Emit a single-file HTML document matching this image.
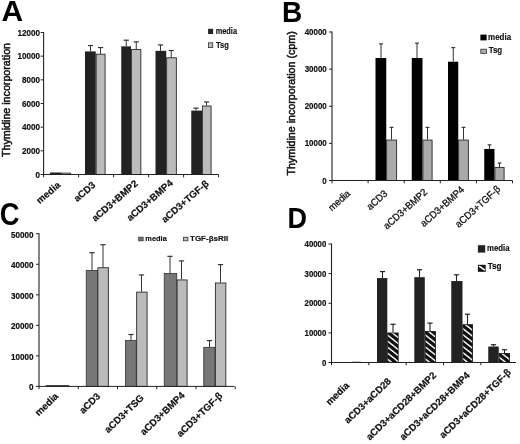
<!DOCTYPE html>
<html><head><meta charset="utf-8"><title>Figure</title><style>html,body{margin:0;padding:0;background:#fff}svg{display:block}</style></head><body>
<svg width="520" height="444" viewBox="0 0 520 444">
<defs><pattern id="hatch" patternUnits="userSpaceOnUse" width="7.6" height="6" patternTransform="skewY(38.3)"><rect width="7.6" height="6" fill="#fff"/><rect y="0" width="7.6" height="4.2" fill="#111"/></pattern></defs>
<rect width="520" height="444" fill="#fff"/>
<rect x="50.00" y="172.49" width="11.25" height="2.01" fill="#222"/>
<rect x="61.65" y="173.12" width="8.95" height="1.38" fill="#bbb" stroke="#2a2a2a" stroke-width="0.9"/>
<rect x="85.00" y="51.43" width="10.75" height="123.07" fill="#222"/>
<line x1="90.50" y1="45.53" x2="90.50" y2="51.43" stroke="#333" stroke-width="1"/>
<line x1="87.90" y1="45.53" x2="93.10" y2="45.53" stroke="#333" stroke-width="1.2"/>
<rect x="96.15" y="54.20" width="8.95" height="120.30" fill="#bbb" stroke="#2a2a2a" stroke-width="0.9"/>
<line x1="100.50" y1="47.54" x2="100.50" y2="53.80" stroke="#333" stroke-width="1"/>
<line x1="97.90" y1="47.54" x2="103.10" y2="47.54" stroke="#333" stroke-width="1.2"/>
<rect x="121.25" y="46.34" width="9.75" height="128.16" fill="#222"/>
<line x1="126.25" y1="40.20" x2="126.25" y2="46.34" stroke="#333" stroke-width="1"/>
<line x1="123.65" y1="40.20" x2="128.85" y2="40.20" stroke="#333" stroke-width="1.2"/>
<rect x="131.40" y="49.47" width="9.45" height="125.03" fill="#bbb" stroke="#2a2a2a" stroke-width="0.9"/>
<line x1="136.25" y1="41.86" x2="136.25" y2="49.07" stroke="#333" stroke-width="1"/>
<line x1="133.65" y1="41.86" x2="138.85" y2="41.86" stroke="#333" stroke-width="1.2"/>
<rect x="155.50" y="50.84" width="10.75" height="123.66" fill="#222"/>
<line x1="160.50" y1="44.93" x2="160.50" y2="50.84" stroke="#333" stroke-width="1"/>
<line x1="157.90" y1="44.93" x2="163.10" y2="44.93" stroke="#333" stroke-width="1.2"/>
<rect x="166.65" y="57.75" width="9.70" height="116.75" fill="#bbb" stroke="#2a2a2a" stroke-width="0.9"/>
<line x1="171.25" y1="50.50" x2="171.25" y2="57.35" stroke="#333" stroke-width="1"/>
<line x1="168.65" y1="50.50" x2="173.85" y2="50.50" stroke="#333" stroke-width="1.2"/>
<rect x="191.25" y="110.60" width="10.75" height="63.90" fill="#222"/>
<line x1="196.00" y1="108.12" x2="196.00" y2="110.60" stroke="#333" stroke-width="1"/>
<line x1="193.40" y1="108.12" x2="198.60" y2="108.12" stroke="#333" stroke-width="1.2"/>
<rect x="202.40" y="106.03" width="8.70" height="68.47" fill="#bbb" stroke="#2a2a2a" stroke-width="0.9"/>
<line x1="206.50" y1="101.97" x2="206.50" y2="105.63" stroke="#333" stroke-width="1"/>
<line x1="203.90" y1="101.97" x2="209.10" y2="101.97" stroke="#333" stroke-width="1.2"/>
<line x1="43.60" y1="32.00" x2="43.60" y2="175.00" stroke="#222" stroke-width="1.1"/>
<line x1="43.10" y1="174.50" x2="218.50" y2="174.50" stroke="#222" stroke-width="1.0"/>
<line x1="40.60" y1="174.50" x2="43.60" y2="174.50" stroke="#222" stroke-width="1"/>
<text transform="translate(40.00,177.60) scale(0.9,1)" font-family="Liberation Sans, sans-serif" font-size="9" font-weight="bold" text-anchor="end" fill="#111" stroke="#111" stroke-width="0.2">0</text>
<line x1="40.60" y1="150.83" x2="43.60" y2="150.83" stroke="#222" stroke-width="1"/>
<text transform="translate(40.00,153.93) scale(0.9,1)" font-family="Liberation Sans, sans-serif" font-size="9" font-weight="bold" text-anchor="end" fill="#111" stroke="#111" stroke-width="0.2">2000</text>
<line x1="40.60" y1="127.17" x2="43.60" y2="127.17" stroke="#222" stroke-width="1"/>
<text transform="translate(40.00,130.27) scale(0.9,1)" font-family="Liberation Sans, sans-serif" font-size="9" font-weight="bold" text-anchor="end" fill="#111" stroke="#111" stroke-width="0.2">4000</text>
<line x1="40.60" y1="103.50" x2="43.60" y2="103.50" stroke="#222" stroke-width="1"/>
<text transform="translate(40.00,106.60) scale(0.9,1)" font-family="Liberation Sans, sans-serif" font-size="9" font-weight="bold" text-anchor="end" fill="#111" stroke="#111" stroke-width="0.2">6000</text>
<line x1="40.60" y1="79.83" x2="43.60" y2="79.83" stroke="#222" stroke-width="1"/>
<text transform="translate(40.00,82.93) scale(0.9,1)" font-family="Liberation Sans, sans-serif" font-size="9" font-weight="bold" text-anchor="end" fill="#111" stroke="#111" stroke-width="0.2">8000</text>
<line x1="40.60" y1="56.17" x2="43.60" y2="56.17" stroke="#222" stroke-width="1"/>
<text transform="translate(40.00,59.27) scale(0.9,1)" font-family="Liberation Sans, sans-serif" font-size="9" font-weight="bold" text-anchor="end" fill="#111" stroke="#111" stroke-width="0.2">10000</text>
<line x1="40.60" y1="32.50" x2="43.60" y2="32.50" stroke="#222" stroke-width="1"/>
<text transform="translate(40.00,35.60) scale(0.9,1)" font-family="Liberation Sans, sans-serif" font-size="9" font-weight="bold" text-anchor="end" fill="#111" stroke="#111" stroke-width="0.2">12000</text>
<line x1="43.60" y1="174.50" x2="43.60" y2="177.30" stroke="#222" stroke-width="1"/>
<line x1="78.60" y1="174.50" x2="78.60" y2="177.30" stroke="#222" stroke-width="1"/>
<line x1="113.60" y1="174.50" x2="113.60" y2="177.30" stroke="#222" stroke-width="1"/>
<line x1="148.60" y1="174.50" x2="148.60" y2="177.30" stroke="#222" stroke-width="1"/>
<line x1="183.60" y1="174.50" x2="183.60" y2="177.30" stroke="#222" stroke-width="1"/>
<line x1="218.60" y1="174.50" x2="218.60" y2="177.30" stroke="#222" stroke-width="1"/>
<text transform="translate(61.00,186.00) rotate(-41)" font-family="Liberation Sans, sans-serif" font-size="9.7" font-weight="bold" text-anchor="end" fill="#111" stroke="#111" stroke-width="0.2">media</text>
<text transform="translate(96.00,186.00) rotate(-41)" font-family="Liberation Sans, sans-serif" font-size="9.7" font-weight="bold" text-anchor="end" fill="#111" stroke="#111" stroke-width="0.2">aCD3</text>
<text transform="translate(138.50,184.50) rotate(-41)" font-family="Liberation Sans, sans-serif" font-size="9.7" font-weight="bold" text-anchor="end" fill="#111" stroke="#111" stroke-width="0.2">aCD3+BMP2</text>
<text transform="translate(173.50,184.00) rotate(-41)" font-family="Liberation Sans, sans-serif" font-size="9.7" font-weight="bold" text-anchor="end" fill="#111" stroke="#111" stroke-width="0.2">aCD3+BMP4</text>
<text transform="translate(209.40,184.50) rotate(-41)" font-family="Liberation Sans, sans-serif" font-size="9.7" font-weight="bold" text-anchor="end" fill="#111" stroke="#111" stroke-width="0.2">aCD3+TGF-β</text>
<text transform="translate(10.40,100.00) rotate(-90)" font-family="Liberation Sans, sans-serif" font-size="10.7" font-weight="normal" text-anchor="middle" fill="#111" stroke="#111" stroke-width="0.5">Thymidine incorporation</text>
<text transform="translate(1.40,20.80) scale(1.04,1)" font-family="Liberation Sans, sans-serif" font-size="28.8" font-weight="bold" text-anchor="start" fill="#000">A</text>
<rect x="208.10" y="28.80" width="5.00" height="5.20" fill="#222"/>
<text transform="translate(215.70,33.50) scale(0.82,1)" font-family="Liberation Sans, sans-serif" font-size="9" font-weight="bold" text-anchor="start" fill="#111" stroke="#111" stroke-width="0.15">media</text>
<rect x="208.50" y="42.80" width="4.20" height="4.80" fill="#bbb" stroke="#333" stroke-width="0.8"/>
<text transform="translate(215.90,47.80) scale(0.84,1)" font-family="Liberation Sans, sans-serif" font-size="9" font-weight="bold" text-anchor="start" fill="#111" stroke="#111" stroke-width="0.15">Tsg</text>
<rect x="375.50" y="57.99" width="10.75" height="122.51" fill="#000"/>
<line x1="381.00" y1="43.88" x2="381.00" y2="57.99" stroke="#333" stroke-width="1"/>
<line x1="379.10" y1="43.88" x2="382.90" y2="43.88" stroke="#333" stroke-width="1.2"/>
<rect x="386.65" y="140.06" width="9.95" height="40.44" fill="#aaa" stroke="#2a2a2a" stroke-width="0.9"/>
<line x1="391.50" y1="127.41" x2="391.50" y2="139.66" stroke="#333" stroke-width="1"/>
<line x1="389.60" y1="127.41" x2="393.40" y2="127.41" stroke="#333" stroke-width="1.2"/>
<rect x="411.75" y="57.99" width="10.75" height="122.51" fill="#000"/>
<line x1="417.00" y1="43.14" x2="417.00" y2="57.99" stroke="#333" stroke-width="1"/>
<line x1="415.10" y1="43.14" x2="418.90" y2="43.14" stroke="#333" stroke-width="1.2"/>
<rect x="422.90" y="140.06" width="9.20" height="40.44" fill="#aaa" stroke="#2a2a2a" stroke-width="0.9"/>
<line x1="427.50" y1="127.41" x2="427.50" y2="139.66" stroke="#333" stroke-width="1"/>
<line x1="425.60" y1="127.41" x2="429.40" y2="127.41" stroke="#333" stroke-width="1.2"/>
<rect x="448.00" y="61.70" width="10.25" height="118.80" fill="#000"/>
<line x1="453.25" y1="47.59" x2="453.25" y2="61.70" stroke="#333" stroke-width="1"/>
<line x1="451.35" y1="47.59" x2="455.15" y2="47.59" stroke="#333" stroke-width="1.2"/>
<rect x="458.65" y="140.06" width="9.70" height="40.44" fill="#aaa" stroke="#2a2a2a" stroke-width="0.9"/>
<line x1="463.50" y1="127.41" x2="463.50" y2="139.66" stroke="#333" stroke-width="1"/>
<line x1="461.60" y1="127.41" x2="465.40" y2="127.41" stroke="#333" stroke-width="1.2"/>
<rect x="484.25" y="148.94" width="10.25" height="31.56" fill="#000"/>
<line x1="489.50" y1="144.86" x2="489.50" y2="148.94" stroke="#333" stroke-width="1"/>
<line x1="487.60" y1="144.86" x2="491.40" y2="144.86" stroke="#333" stroke-width="1.2"/>
<rect x="494.90" y="167.53" width="9.20" height="12.97" fill="#aaa" stroke="#2a2a2a" stroke-width="0.9"/>
<line x1="499.50" y1="163.05" x2="499.50" y2="167.13" stroke="#333" stroke-width="1"/>
<line x1="497.60" y1="163.05" x2="501.40" y2="163.05" stroke="#333" stroke-width="1.2"/>
<line x1="332.00" y1="31.50" x2="332.00" y2="181.00" stroke="#222" stroke-width="1.1"/>
<line x1="331.50" y1="180.50" x2="512.50" y2="180.50" stroke="#222" stroke-width="1.0"/>
<line x1="329.00" y1="180.50" x2="332.00" y2="180.50" stroke="#222" stroke-width="1"/>
<text transform="translate(326.70,183.60) scale(0.88,1)" font-family="Liberation Sans, sans-serif" font-size="9" font-weight="bold" text-anchor="end" fill="#111" stroke="#111" stroke-width="0.2">0</text>
<line x1="329.00" y1="143.38" x2="332.00" y2="143.38" stroke="#222" stroke-width="1"/>
<text transform="translate(326.70,146.47) scale(0.88,1)" font-family="Liberation Sans, sans-serif" font-size="9" font-weight="bold" text-anchor="end" fill="#111" stroke="#111" stroke-width="0.2">10000</text>
<line x1="329.00" y1="106.25" x2="332.00" y2="106.25" stroke="#222" stroke-width="1"/>
<text transform="translate(326.70,109.35) scale(0.88,1)" font-family="Liberation Sans, sans-serif" font-size="9" font-weight="bold" text-anchor="end" fill="#111" stroke="#111" stroke-width="0.2">20000</text>
<line x1="329.00" y1="69.12" x2="332.00" y2="69.12" stroke="#222" stroke-width="1"/>
<text transform="translate(326.70,72.22) scale(0.88,1)" font-family="Liberation Sans, sans-serif" font-size="9" font-weight="bold" text-anchor="end" fill="#111" stroke="#111" stroke-width="0.2">30000</text>
<line x1="329.00" y1="32.00" x2="332.00" y2="32.00" stroke="#222" stroke-width="1"/>
<text transform="translate(326.70,35.10) scale(0.88,1)" font-family="Liberation Sans, sans-serif" font-size="9" font-weight="bold" text-anchor="end" fill="#111" stroke="#111" stroke-width="0.2">40000</text>
<line x1="332.00" y1="180.50" x2="332.00" y2="183.30" stroke="#222" stroke-width="1"/>
<line x1="368.10" y1="180.50" x2="368.10" y2="183.30" stroke="#222" stroke-width="1"/>
<line x1="404.20" y1="180.50" x2="404.20" y2="183.30" stroke="#222" stroke-width="1"/>
<line x1="440.30" y1="180.50" x2="440.30" y2="183.30" stroke="#222" stroke-width="1"/>
<line x1="476.40" y1="180.50" x2="476.40" y2="183.30" stroke="#222" stroke-width="1"/>
<line x1="512.50" y1="180.50" x2="512.50" y2="183.30" stroke="#222" stroke-width="1"/>
<text transform="translate(351.00,194.40) rotate(-42) scale(0.94,1)" font-family="Liberation Sans, sans-serif" font-size="10" font-weight="normal" text-anchor="end" fill="#111" stroke="#111" stroke-width="0.3">media</text>
<text transform="translate(388.20,194.40) rotate(-42) scale(0.94,1)" font-family="Liberation Sans, sans-serif" font-size="10" font-weight="normal" text-anchor="end" fill="#111" stroke="#111" stroke-width="0.3">aCD3</text>
<text transform="translate(428.00,193.00) rotate(-42) scale(0.94,1)" font-family="Liberation Sans, sans-serif" font-size="10" font-weight="normal" text-anchor="end" fill="#111" stroke="#111" stroke-width="0.3">aCD3+BMP2</text>
<text transform="translate(465.00,190.50) rotate(-42) scale(0.94,1)" font-family="Liberation Sans, sans-serif" font-size="10" font-weight="normal" text-anchor="end" fill="#111" stroke="#111" stroke-width="0.3">aCD3+BMP4</text>
<text transform="translate(501.00,190.00) rotate(-42) scale(0.94,1)" font-family="Liberation Sans, sans-serif" font-size="10" font-weight="normal" text-anchor="end" fill="#111" stroke="#111" stroke-width="0.3">aCD3+TGF-β</text>
<text transform="translate(295.40,103.40) rotate(-90)" font-family="Liberation Sans, sans-serif" font-size="10.7" font-weight="normal" text-anchor="middle" fill="#111" stroke="#111" stroke-width="0.5">Thymidine incorporation (cpm)</text>
<text transform="translate(282.00,21.70) scale(0.95,1)" font-family="Liberation Sans, sans-serif" font-size="29.5" font-weight="bold" text-anchor="start" fill="#000">B</text>
<rect x="480.40" y="34.60" width="6.20" height="5.80" fill="#000"/>
<text transform="translate(488.10,39.70) scale(0.97,1)" font-family="Liberation Sans, sans-serif" font-size="8.2" font-weight="bold" text-anchor="start" fill="#111" stroke="#111" stroke-width="0.15">media</text>
<rect x="480.80" y="49.20" width="5.60" height="4.20" fill="#aaa" stroke="#333" stroke-width="0.8"/>
<text transform="translate(488.70,53.10) scale(0.97,1)" font-family="Liberation Sans, sans-serif" font-size="8.2" font-weight="bold" text-anchor="start" fill="#111" stroke="#111" stroke-width="0.15">Tsg</text>
<rect x="46.25" y="385.48" width="22.50" height="0.92" fill="#777" stroke="#333" stroke-width="0.8"/>
<rect x="86.25" y="270.39" width="11.25" height="116.01" fill="#777" stroke="#333" stroke-width="0.8"/>
<line x1="92.00" y1="252.68" x2="92.00" y2="270.39" stroke="#333" stroke-width="1"/>
<line x1="89.40" y1="252.68" x2="94.60" y2="252.68" stroke="#333" stroke-width="1.2"/>
<rect x="97.90" y="267.73" width="10.45" height="118.67" fill="#bbb" stroke="#2a2a2a" stroke-width="0.9"/>
<line x1="103.00" y1="244.74" x2="103.00" y2="267.33" stroke="#333" stroke-width="1"/>
<line x1="100.40" y1="244.74" x2="105.60" y2="244.74" stroke="#333" stroke-width="1.2"/>
<rect x="125.50" y="340.60" width="10.75" height="45.80" fill="#777" stroke="#333" stroke-width="0.8"/>
<line x1="131.00" y1="334.50" x2="131.00" y2="340.60" stroke="#333" stroke-width="1"/>
<line x1="128.40" y1="334.50" x2="133.60" y2="334.50" stroke="#333" stroke-width="1.2"/>
<rect x="136.65" y="292.16" width="10.45" height="94.24" fill="#bbb" stroke="#2a2a2a" stroke-width="0.9"/>
<line x1="141.50" y1="274.97" x2="141.50" y2="291.76" stroke="#333" stroke-width="1"/>
<line x1="138.90" y1="274.97" x2="144.10" y2="274.97" stroke="#333" stroke-width="1.2"/>
<rect x="164.25" y="273.44" width="12.50" height="112.96" fill="#777" stroke="#333" stroke-width="0.8"/>
<line x1="170.00" y1="256.34" x2="170.00" y2="273.44" stroke="#333" stroke-width="1"/>
<line x1="167.40" y1="256.34" x2="172.60" y2="256.34" stroke="#333" stroke-width="1.2"/>
<rect x="177.15" y="279.94" width="9.95" height="106.46" fill="#bbb" stroke="#2a2a2a" stroke-width="0.9"/>
<line x1="181.50" y1="260.92" x2="181.50" y2="279.54" stroke="#333" stroke-width="1"/>
<line x1="178.90" y1="260.92" x2="184.10" y2="260.92" stroke="#333" stroke-width="1.2"/>
<rect x="203.75" y="347.32" width="11.25" height="39.08" fill="#777" stroke="#333" stroke-width="0.8"/>
<line x1="209.50" y1="340.60" x2="209.50" y2="347.32" stroke="#333" stroke-width="1"/>
<line x1="206.90" y1="340.60" x2="212.10" y2="340.60" stroke="#333" stroke-width="1.2"/>
<rect x="215.40" y="283.00" width="10.45" height="103.40" fill="#bbb" stroke="#2a2a2a" stroke-width="0.9"/>
<line x1="220.50" y1="264.59" x2="220.50" y2="282.60" stroke="#333" stroke-width="1"/>
<line x1="217.90" y1="264.59" x2="223.10" y2="264.59" stroke="#333" stroke-width="1.2"/>
<line x1="39.00" y1="233.25" x2="39.00" y2="386.90" stroke="#222" stroke-width="1.1"/>
<line x1="38.50" y1="386.40" x2="234.50" y2="386.40" stroke="#222" stroke-width="1.0"/>
<line x1="36.00" y1="386.40" x2="39.00" y2="386.40" stroke="#222" stroke-width="1"/>
<text transform="translate(33.40,390.20) scale(0.9,1)" font-family="Liberation Sans, sans-serif" font-size="9" font-weight="bold" text-anchor="end" fill="#111" stroke="#111" stroke-width="0.2">0</text>
<line x1="36.00" y1="355.87" x2="39.00" y2="355.87" stroke="#222" stroke-width="1"/>
<text transform="translate(33.40,359.67) scale(0.9,1)" font-family="Liberation Sans, sans-serif" font-size="9" font-weight="bold" text-anchor="end" fill="#111" stroke="#111" stroke-width="0.2">10000</text>
<line x1="36.00" y1="325.34" x2="39.00" y2="325.34" stroke="#222" stroke-width="1"/>
<text transform="translate(33.40,329.14) scale(0.9,1)" font-family="Liberation Sans, sans-serif" font-size="9" font-weight="bold" text-anchor="end" fill="#111" stroke="#111" stroke-width="0.2">20000</text>
<line x1="36.00" y1="294.81" x2="39.00" y2="294.81" stroke="#222" stroke-width="1"/>
<text transform="translate(33.40,298.61) scale(0.9,1)" font-family="Liberation Sans, sans-serif" font-size="9" font-weight="bold" text-anchor="end" fill="#111" stroke="#111" stroke-width="0.2">30000</text>
<line x1="36.00" y1="264.28" x2="39.00" y2="264.28" stroke="#222" stroke-width="1"/>
<text transform="translate(33.40,268.08) scale(0.9,1)" font-family="Liberation Sans, sans-serif" font-size="9" font-weight="bold" text-anchor="end" fill="#111" stroke="#111" stroke-width="0.2">40000</text>
<line x1="36.00" y1="233.75" x2="39.00" y2="233.75" stroke="#222" stroke-width="1"/>
<text transform="translate(33.40,237.55) scale(0.9,1)" font-family="Liberation Sans, sans-serif" font-size="9" font-weight="bold" text-anchor="end" fill="#111" stroke="#111" stroke-width="0.2">50000</text>
<line x1="39.00" y1="386.40" x2="39.00" y2="389.20" stroke="#222" stroke-width="1"/>
<line x1="78.25" y1="386.40" x2="78.25" y2="389.20" stroke="#222" stroke-width="1"/>
<line x1="117.50" y1="386.40" x2="117.50" y2="389.20" stroke="#222" stroke-width="1"/>
<line x1="156.75" y1="386.40" x2="156.75" y2="389.20" stroke="#222" stroke-width="1"/>
<line x1="196.00" y1="386.40" x2="196.00" y2="389.20" stroke="#222" stroke-width="1"/>
<line x1="235.25" y1="386.40" x2="235.25" y2="389.20" stroke="#222" stroke-width="1"/>
<text transform="translate(59.00,397.00) rotate(-44)" font-family="Liberation Sans, sans-serif" font-size="9.7" font-weight="bold" text-anchor="end" fill="#111" stroke="#111" stroke-width="0.2">media</text>
<text transform="translate(101.00,397.00) rotate(-44)" font-family="Liberation Sans, sans-serif" font-size="9.7" font-weight="bold" text-anchor="end" fill="#111" stroke="#111" stroke-width="0.2">aCD3</text>
<text transform="translate(144.50,398.50) rotate(-44)" font-family="Liberation Sans, sans-serif" font-size="9.7" font-weight="bold" text-anchor="end" fill="#111" stroke="#111" stroke-width="0.2">aCD3+TSG</text>
<text transform="translate(185.30,396.00) rotate(-44)" font-family="Liberation Sans, sans-serif" font-size="9.7" font-weight="bold" text-anchor="end" fill="#111" stroke="#111" stroke-width="0.2">aCD3+BMP4</text>
<text transform="translate(223.00,396.50) rotate(-44)" font-family="Liberation Sans, sans-serif" font-size="9.7" font-weight="bold" text-anchor="end" fill="#111" stroke="#111" stroke-width="0.2">aCD3+TGF-β</text>
<text transform="translate(-0.20,224.70) scale(0.88,1)" font-family="Liberation Sans, sans-serif" font-size="31" font-weight="bold" text-anchor="start" fill="#000">C</text>
<rect x="138.70" y="237.20" width="4.40" height="3.60" fill="#777" stroke="#333" stroke-width="0.8"/>
<text transform="translate(145.30,241.30) scale(0.93,1)" font-family="Liberation Sans, sans-serif" font-size="8" font-weight="bold" text-anchor="start" fill="#111" stroke="#111" stroke-width="0.15">media</text>
<rect x="183.50" y="237.20" width="4.40" height="3.60" fill="#bbb" stroke="#333" stroke-width="0.8"/>
<text transform="translate(190.00,241.30)" font-family="Liberation Sans, sans-serif" font-size="8" font-weight="bold" text-anchor="start" fill="#111" stroke="#111" stroke-width="0.15">TGF-βsRII</text>
<rect x="352.00" y="361.76" width="9.00" height="0.74" fill="#222"/>
<rect x="377.00" y="278.07" width="10.30" height="84.43" fill="#222"/>
<line x1="382.50" y1="271.55" x2="382.50" y2="278.07" stroke="#222" stroke-width="1.1"/>
<line x1="379.90" y1="271.55" x2="385.10" y2="271.55" stroke="#222" stroke-width="1.2"/>
<rect x="387.70" y="332.98" width="10.50" height="29.52" fill="url(#hatch)" stroke="#111" stroke-width="0.8"/>
<line x1="393.00" y1="324.28" x2="393.00" y2="332.58" stroke="#222" stroke-width="1.1"/>
<line x1="390.40" y1="324.28" x2="395.60" y2="324.28" stroke="#222" stroke-width="1.2"/>
<rect x="414.30" y="277.18" width="10.50" height="85.32" fill="#222"/>
<line x1="419.50" y1="269.77" x2="419.50" y2="277.18" stroke="#222" stroke-width="1.1"/>
<line x1="416.90" y1="269.77" x2="422.10" y2="269.77" stroke="#222" stroke-width="1.2"/>
<rect x="425.20" y="331.50" width="10.20" height="31.00" fill="url(#hatch)" stroke="#111" stroke-width="0.8"/>
<line x1="430.00" y1="323.10" x2="430.00" y2="331.10" stroke="#222" stroke-width="1.1"/>
<line x1="427.40" y1="323.10" x2="432.60" y2="323.10" stroke="#222" stroke-width="1.2"/>
<rect x="451.25" y="281.03" width="11.25" height="81.47" fill="#222"/>
<line x1="456.50" y1="274.81" x2="456.50" y2="281.03" stroke="#222" stroke-width="1.1"/>
<line x1="453.90" y1="274.81" x2="459.10" y2="274.81" stroke="#222" stroke-width="1.2"/>
<rect x="462.90" y="324.68" width="9.70" height="37.82" fill="url(#hatch)" stroke="#111" stroke-width="0.8"/>
<line x1="467.50" y1="314.21" x2="467.50" y2="324.28" stroke="#222" stroke-width="1.1"/>
<line x1="464.90" y1="314.21" x2="470.10" y2="314.21" stroke="#222" stroke-width="1.2"/>
<rect x="488.25" y="346.50" width="10.50" height="16.00" fill="#222"/>
<line x1="493.50" y1="344.73" x2="493.50" y2="346.50" stroke="#222" stroke-width="1.1"/>
<line x1="490.90" y1="344.73" x2="496.10" y2="344.73" stroke="#222" stroke-width="1.2"/>
<rect x="499.15" y="353.42" width="10.45" height="9.08" fill="url(#hatch)" stroke="#111" stroke-width="0.8"/>
<line x1="504.50" y1="349.76" x2="504.50" y2="353.02" stroke="#222" stroke-width="1.1"/>
<line x1="501.90" y1="349.76" x2="507.10" y2="349.76" stroke="#222" stroke-width="1.2"/>
<line x1="331.50" y1="243.50" x2="331.50" y2="363.00" stroke="#222" stroke-width="1.1"/>
<line x1="331.00" y1="362.50" x2="516.00" y2="362.50" stroke="#222" stroke-width="1.0"/>
<line x1="328.50" y1="362.50" x2="331.50" y2="362.50" stroke="#222" stroke-width="1"/>
<text transform="translate(326.30,365.60) scale(0.87,1)" font-family="Liberation Sans, sans-serif" font-size="9" font-weight="bold" text-anchor="end" fill="#111" stroke="#111" stroke-width="0.2">0</text>
<line x1="328.50" y1="332.88" x2="331.50" y2="332.88" stroke="#222" stroke-width="1"/>
<text transform="translate(326.30,335.98) scale(0.87,1)" font-family="Liberation Sans, sans-serif" font-size="9" font-weight="bold" text-anchor="end" fill="#111" stroke="#111" stroke-width="0.2">10000</text>
<line x1="328.50" y1="303.25" x2="331.50" y2="303.25" stroke="#222" stroke-width="1"/>
<text transform="translate(326.30,306.35) scale(0.87,1)" font-family="Liberation Sans, sans-serif" font-size="9" font-weight="bold" text-anchor="end" fill="#111" stroke="#111" stroke-width="0.2">20000</text>
<line x1="328.50" y1="273.62" x2="331.50" y2="273.62" stroke="#222" stroke-width="1"/>
<text transform="translate(326.30,276.73) scale(0.87,1)" font-family="Liberation Sans, sans-serif" font-size="9" font-weight="bold" text-anchor="end" fill="#111" stroke="#111" stroke-width="0.2">30000</text>
<line x1="328.50" y1="244.00" x2="331.50" y2="244.00" stroke="#222" stroke-width="1"/>
<text transform="translate(326.30,247.10) scale(0.87,1)" font-family="Liberation Sans, sans-serif" font-size="9" font-weight="bold" text-anchor="end" fill="#111" stroke="#111" stroke-width="0.2">40000</text>
<line x1="331.50" y1="362.50" x2="331.50" y2="365.30" stroke="#222" stroke-width="1"/>
<line x1="368.85" y1="362.50" x2="368.85" y2="365.30" stroke="#222" stroke-width="1"/>
<line x1="406.20" y1="362.50" x2="406.20" y2="365.30" stroke="#222" stroke-width="1"/>
<line x1="443.55" y1="362.50" x2="443.55" y2="365.30" stroke="#222" stroke-width="1"/>
<line x1="480.90" y1="362.50" x2="480.90" y2="365.30" stroke="#222" stroke-width="1"/>
<text transform="translate(349.80,386.30) rotate(-44)" font-family="Liberation Sans, sans-serif" font-size="9.7" font-weight="bold" text-anchor="end" fill="#111" stroke="#111" stroke-width="0.2">media</text>
<text transform="translate(391.70,382.00) rotate(-44)" font-family="Liberation Sans, sans-serif" font-size="9.7" font-weight="bold" text-anchor="end" fill="#111" stroke="#111" stroke-width="0.2">aCD3+aCD28</text>
<text transform="translate(436.90,376.00) rotate(-44)" font-family="Liberation Sans, sans-serif" font-size="9.7" font-weight="bold" text-anchor="end" fill="#111" stroke="#111" stroke-width="0.2">aCD3+aCD28+BMP2</text>
<text transform="translate(470.50,376.00) rotate(-44)" font-family="Liberation Sans, sans-serif" font-size="9.7" font-weight="bold" text-anchor="end" fill="#111" stroke="#111" stroke-width="0.2">aCD3+aCD28+BMP4</text>
<text transform="translate(511.50,373.00) rotate(-44)" font-family="Liberation Sans, sans-serif" font-size="9.7" font-weight="bold" text-anchor="end" fill="#111" stroke="#111" stroke-width="0.2">aCD3+aCD28+TGF-β</text>
<text transform="translate(287.50,228.00) scale(0.9,1)" font-family="Liberation Sans, sans-serif" font-size="30" font-weight="bold" text-anchor="start" fill="#000">D</text>
<rect x="477.90" y="245.20" width="7.30" height="7.40" fill="#222"/>
<text transform="translate(487.00,250.80) scale(0.93,1)" font-family="Liberation Sans, sans-serif" font-size="8.4" font-weight="bold" text-anchor="start" fill="#111" stroke="#111" stroke-width="0.15">media</text>
<rect x="477.90" y="264.80" width="7.80" height="7.00" fill="#111"/>
<line x1="479.10" y1="266.10" x2="484.90" y2="270.20" stroke="#fff" stroke-width="1.5"/>
<text transform="translate(487.70,269.30) scale(0.97,1)" font-family="Liberation Sans, sans-serif" font-size="8.4" font-weight="bold" text-anchor="start" fill="#111" stroke="#111" stroke-width="0.15">Tsg</text>
</svg>
</body></html>
